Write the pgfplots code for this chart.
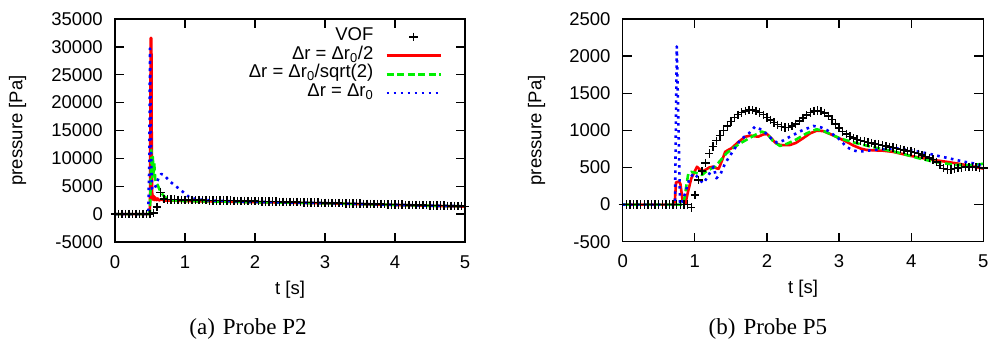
\documentclass[border=0pt]{standalone}
\usepackage{pgfplots}
\pgfplotsset{compat=1.18}
\usepackage{fontspec}
\setmainfont{Liberation Sans}
\newfontfamily\capfont{Liberation Serif}
\definecolor{gpred}{RGB}{255,0,0}
\definecolor{gpgreen}{RGB}{0,240,0}
\definecolor{gpblue}{RGB}{0,0,255}
\pgfplotsset{
  gpaxis/.style={
    scale only axis, anchor=south west,
    xmin=0, xmax=5, xtick={0,1,2,3,4,5},
    axis line style={line width=1.5pt},
    every tick/.style={black, line width=1.3pt},
    major tick length=9pt,
    tick align=inside,
    /pgf/number format/assume math mode=true,
    /pgf/number format/set thousands separator={},
    scaled y ticks=false,
    tick label style={font=\fontsize{18.5}{22}\selectfont, inner sep=0pt},
    xticklabel style={anchor=base, yshift=-26pt},
    yticklabel style={anchor=east, xshift=-12pt},
    label style={font=\fontsize{18.5}{22}\selectfont},
    xlabel={t [s]},
    ylabel={pressure [Pa]},
    xlabel style={at={(axis description cs:0.5,0)}, anchor=base, yshift=-52pt},
    legend image code/.code={\draw[mark repeat=2,mark phase=2,#1] plot coordinates {(0pt,0pt) (27pt,0pt) (54pt,0pt)};},
  },
  vof/.style={only marks, mark=+, mark size=4.2pt, black, mark options={line width=1.4pt}},
  half/.style={no marks, gpred, line width=2.6pt, line join=round},
  sqr/.style={no marks, gpgreen, line width=2.6pt, dash pattern=on 7pt off 3.5pt, line join=round},
  full/.style={no marks, gpblue, line width=2.6pt, dash pattern=on 2.6pt off 4.4pt, line join=round},
}
\begin{document}
\begin{tikzpicture}
% ---------------- (a) Probe P2 ----------------
\begin{axis}[gpaxis,
  at={(115pt,-242pt)}, width=350pt, height=223pt,
  ymin=-5000, ymax=35000, ytick={-5000,0,5000,10000,15000,20000,25000,30000,35000},
  ylabel style={at={(axis description cs:-0.2786,0.5)}, anchor=center},
  legend cell align=right, legend plot pos=right,
  legend style={draw=none, fill=none, inner sep=0pt, outer sep=0pt,
    at={(0.934,0.962)}, anchor=north east,
    font=\fontsize{18.5}{22}\selectfont,
    nodes={inner sep=0pt, text height=13pt, text depth=5.7pt},
    /tikz/column sep=12pt},
]
\addplot[vof] coordinates {
(0,0)(0.05,0)(0.1,0)(0.15,0)(0.2,0)(0.25,0)(0.3,0)(0.35,0)(0.4,0)(0.45,0)(0.5,0)
(0.55,200)(0.6,1300)(0.65,3850)(0.7,2700)(0.75,2620)(0.8,2600)(0.85,2590)(0.9,2580)(0.95,2565)
(1.0,2550)(1.05,2540)(1.1,2530)(1.15,2520)(1.2,2510)(1.25,2500)(1.3,2490)(1.35,2480)(1.4,2470)(1.45,2460)
(1.5,2450)(1.55,2437)(1.6,2424)(1.65,2411)(1.7,2398)(1.75,2385)(1.8,2372)(1.85,2359)(1.9,2346)(1.95,2333)
(2.0,2320)(2.05,2306)(2.1,2292)(2.15,2278)(2.2,2264)(2.25,2250)(2.3,2236)(2.35,2222)(2.4,2208)(2.45,2194)
(2.5,2180)(2.55,2165)(2.6,2150)(2.65,2135)(2.7,2120)(2.75,2105)(2.8,2090)(2.85,2075)(2.9,2060)(2.95,2045)
(3.0,2030)(3.05,2015)(3.1,2000)(3.15,1985)(3.2,1970)(3.25,1955)(3.3,1940)(3.35,1925)(3.4,1910)(3.45,1895)
(3.5,1880)(3.55,1865)(3.6,1850)(3.65,1835)(3.7,1820)(3.75,1805)(3.8,1790)(3.85,1775)(3.9,1760)(3.95,1745)
(4.0,1730)(4.05,1715)(4.1,1700)(4.15,1685)(4.2,1670)(4.25,1655)(4.3,1640)(4.35,1625)(4.4,1610)(4.45,1595)
(4.5,1580)(4.55,1564)(4.6,1548)(4.65,1532)(4.7,1516)(4.75,1500)(4.8,1484)(4.85,1468)(4.9,1452)(4.95,1436)
(5.0,1420)
};
\addlegendentry{VOF}
\addplot[half] coordinates {
(0,0)(0.45,0)(0.49,0)(0.5,1500)(0.51,31600)(0.52,31600)(0.525,12000)(0.53,4000)(0.54,2600)
(0.55,3300)(0.56,2500)(0.575,3000)(0.59,2500)(0.61,2800)(0.63,2450)(0.66,2650)(0.7,2450)
(0.8,2450)(0.9,2400)(1,2350)(1.5,2250)(2,2150)(2.5,2050)(3,1950)(3.5,1800)(4,1650)(4.5,1500)(5,1350)
};
\addlegendentry{Δr = Δr\textsubscript{0}/2}
\addplot[sqr] coordinates {
(0,0)(0.48,0)(0.5,500)(0.51,6000)(0.52,11500)(0.53,6500)(0.54,10300)(0.55,7000)(0.56,9200)
(0.575,6200)(0.59,5600)(0.61,5200)(0.64,4300)(0.67,3700)(0.7,3200)(0.75,2750)(0.8,2500)
(0.9,2400)(1,2350)(1.5,2250)(2,2150)(2.5,2050)(3,1950)(3.5,1800)(4,1650)(4.5,1500)(5,1400)
};
\addlegendentry{Δr = Δr\textsubscript{0}/sqrt(2)}
\addplot[full] coordinates {
(0,0)(0.45,0)(0.475,400)(0.49,9000)(0.5,29700)(0.51,18000)(0.52,8000)(0.53,4500)(0.55,4300)
(0.58,5000)(0.62,6400)(0.66,7200)(0.7,7050)(0.78,5900)(0.87,5000)(0.95,4200)(1.05,3150)
(1.15,2700)(1.3,2500)(1.5,2380)(2,2200)(2.5,2080)(3,1980)(3.5,1830)(4,1680)(4.5,1520)(5,1420)
};
\addlegendentry{Δr = Δr\textsubscript{0}}
\end{axis}
% ---------------- (b) Probe P5 ----------------
\begin{axis}[gpaxis,
  at={(622.7pt,-241.7pt)}, width=360.6pt, height=222.7pt,
  ymin=-500, ymax=2500, ytick={-500,0,500,1000,1500,2000,2500},
  ylabel style={at={(axis description cs:-0.239,0.5)}, anchor=center},
]
\addplot[vof] coordinates {
(0,0)(0.05,0)(0.1,0)(0.15,0)(0.2,0)(0.25,0)(0.3,0)(0.35,0)(0.4,0)(0.45,0)(0.5,0)(0.55,0)
(0.6,0)(0.65,0)(0.7,0)(0.75,0)(0.8,0)(0.85,0)(0.9,0)(0.95,-40)(1.0,130)(1.05,330)(1.1,450)
(1.15,560)(1.2,690)(1.25,780)(1.3,860)(1.35,930)(1.4,1000)(1.45,1060)(1.5,1120)(1.55,1170)
(1.6,1210)(1.65,1240)(1.7,1262)(1.75,1272)(1.8,1272)(1.85,1262)(1.9,1240)(1.95,1210)(2.0,1175)
(2.05,1140)(2.1,1105)(2.15,1075)(2.2,1052)(2.25,1040)(2.3,1042)(2.35,1058)(2.4,1088)(2.45,1125)
(2.5,1165)(2.55,1205)(2.6,1240)(2.65,1262)(2.7,1268)(2.75,1258)(2.8,1235)(2.85,1195)(2.9,1145)
(2.95,1085)(3.0,1030)(3.05,985)(3.1,950)(3.15,920)(3.2,895)(3.25,875)(3.3,860)(3.35,848)(3.4,838)
(3.45,828)(3.5,818)(3.55,808)(3.6,798)(3.65,788)(3.7,778)(3.75,768)(3.8,757)(3.85,746)(3.9,735)
(3.95,724)(4.0,713)(4.05,700)(4.1,685)(4.15,668)(4.2,650)(4.25,630)(4.3,608)(4.35,575)(4.4,530)
(4.45,490)(4.5,475)(4.55,475)(4.6,485)(4.65,495)(4.7,500)(4.75,505)(4.8,505)(4.85,505)(4.9,505)
(4.95,500)(5.0,495)
};
\addplot[half] coordinates {
(0,0)(0.72,0)(0.74,300)(0.78,310)(0.8,280)(0.83,60)(0.87,10)(0.9,150)(0.95,350)(1.0,450)(1.03,510)
(1.07,470)(1.1,440)(1.15,470)(1.2,500)(1.25,510)(1.3,490)(1.33,480)(1.38,600)(1.42,710)(1.47,740)
(1.51,760)(1.6,840)(1.7,915)(1.78,930)(1.83,920)(1.88,915)(1.95,945)(2.0,950)(2.05,905)(2.12,830)
(2.18,803)(2.25,800)(2.32,803)(2.4,830)(2.5,893)(2.6,960)(2.69,996)(2.78,990)(2.875,951)(3.0,895)
(3.1,848)(3.2,795)(3.3,755)(3.38,736)(3.5,730)(3.61,726)(3.75,710)(3.94,668)(4.1,635)(4.31,601)
(4.5,575)(4.68,547)(4.85,515)(5.0,485)
};
\addplot[sqr] coordinates {
(0,0)(0.83,0)(0.86,100)(0.88,240)(0.91,420)(0.95,440)(1.0,430)(1.05,420)(1.1,400)(1.15,440)
(1.2,470)(1.28,511)(1.36,600)(1.44,691)(1.53,760)(1.63,826)(1.73,880)(1.835,938)(1.93,983)
(2.0,960)(2.08,860)(2.18,790)(2.28,820)(2.41,880)(2.55,960)(2.69,1015)(2.8,985)(3.01,893)
(3.245,826)(3.4,790)(3.61,745)(3.8,705)(3.94,668)(4.1,625)(4.31,578)(4.5,550)(4.63,534)
(4.8,530)(4.98,547)(5.0,550)
};
\addplot[full] coordinates {
(0,0)(0.725,0)(0.75,2130)(0.795,30)(0.82,0)(0.864,152)(0.92,330)(0.98,421)(1.03,380)(1.07,331)
(1.12,287)(1.18,380)(1.26,511)(1.3,354)(1.36,420)(1.42,556)(1.51,691)(1.63,870)(1.75,960)
(1.835,1050)(1.9,1020)(2.0,951)(2.07,880)(2.14,834)(2.22,860)(2.32,915)(2.48,996)(2.645,1059)
(2.75,1040)(2.83,1005)(2.99,893)(3.11,772)(3.2,730)(3.27,713)(3.35,720)(3.48,736)(3.65,750)
(3.8,759)(4.0,730)(4.22,691)(4.4,650)(4.585,610)(4.75,575)(4.86,556)(5.0,520)
};
\end{axis}
\node[font=\capfont\fontsize{23}{27}\selectfont, anchor=base] at (248pt,-334pt) {(a)\hspace{8pt}Probe P2};
\node[font=\capfont\fontsize{23}{27}\selectfont, anchor=base] at (768pt,-334pt) {(b)\hspace{8pt}Probe P5};
\pgfresetboundingbox
\useasboundingbox (0pt,0pt) rectangle (991pt,-345pt);
\end{tikzpicture}
\end{document}
